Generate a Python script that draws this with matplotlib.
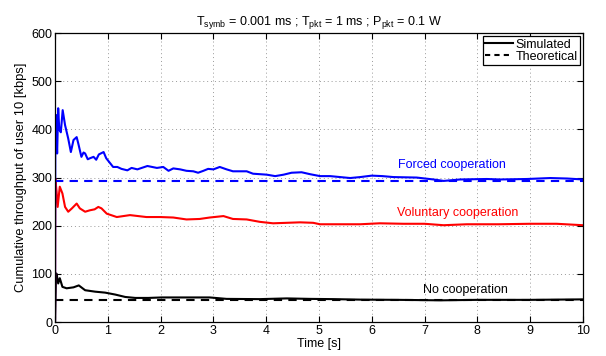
import matplotlib
matplotlib.use("Agg")
import matplotlib.pyplot as plt
from matplotlib.lines import Line2D

plt.rcParams['font.family'] = ['Liberation Sans', 'DejaVu Sans']
plt.rcParams['mathtext.fontset'] = 'custom'
plt.rcParams['mathtext.rm'] = 'Liberation Sans'

# Forced cooperation (simulated)
t_forced = [0, 0.005, 0.02, 0.03, 0.04, 0.06, 0.08, 0.11, 0.145, 0.19, 0.22, 0.25, 0.3,
            0.35, 0.41, 0.44, 0.5, 0.54, 0.57, 0.62, 0.66, 0.73, 0.78, 0.83, 0.92, 0.97,
            1.05, 1.1, 1.18, 1.26, 1.37, 1.45, 1.56, 1.75, 1.93, 2.05, 2.15, 2.24, 2.37,
            2.49, 2.62, 2.71, 2.81, 2.9, 3.0, 3.12, 3.25, 3.37, 3.5, 3.63, 3.75, 3.88,
            4.01, 4.17, 4.33, 4.48, 4.67, 4.83, 5.02, 5.21, 5.4, 5.59, 5.78, 6.0, 6.2,
            6.41, 6.85, 7.17, 7.36, 7.67, 8.18, 8.43, 8.94, 9.38, 9.7, 10.0]
v_forced = [0, 360, 430, 380, 350, 444, 400, 394, 440, 409, 395, 381, 353,
            378, 384, 371, 343, 352, 350, 338, 340, 343, 337, 348, 353, 340,
            329, 322, 322, 318, 315, 320, 317, 324, 320, 322, 314, 319, 317,
            314, 313, 310, 314, 318, 317, 322, 317, 313, 313, 313, 308, 307,
            306, 303, 306, 310, 311, 307, 303, 303, 301, 299, 301, 304, 303,
            301, 300, 296, 293, 296, 297, 296, 297, 299, 298, 296]

# Voluntary cooperation (simulated)
t_volunt = [0, 0.005, 0.03, 0.05, 0.09, 0.14, 0.19, 0.25, 0.32, 0.41, 0.47, 0.57,
            0.66, 0.75, 0.82, 0.88, 0.98, 1.17, 1.42, 1.73, 1.99, 2.24, 2.49, 2.74,
            2.93, 3.19, 3.37, 3.63, 3.88, 4.13, 4.39, 4.64, 4.89, 5.02, 5.4, 5.78,
            6.15, 6.6, 7.0, 7.36, 7.8, 8.4, 9.0, 9.5, 10.0]
v_volunt = [0, 298, 270, 239, 281, 267, 239, 229, 236, 246, 236, 229,
            232, 234, 239, 236, 225, 218, 222, 218, 218, 217, 213, 214,
            217, 220, 214, 213, 208, 205, 206, 207, 206, 203, 203, 203,
            205, 204, 204, 201, 203, 203, 204, 204, 201]

# No cooperation (simulated)
t_nocoop = [0, 0.02, 0.03, 0.06, 0.09, 0.14, 0.22, 0.35, 0.45, 0.57, 0.76, 0.95,
            1.14, 1.33, 1.52, 1.77, 2.02, 2.49, 2.93, 3.25, 3.88, 4.39, 4.83, 5.27,
            5.78, 6.5, 7.3, 8.0, 9.0, 10.0]
v_nocoop = [0, 101, 100, 80, 91, 73, 70, 72, 76, 66, 63, 61,
            57, 52, 50, 50, 51, 51, 51, 48, 47.5, 49, 48, 47.5,
            46.5, 46, 45, 46, 46, 47]

# theoretical values [kbps]
theo_forced = 293
theo_nocoop = 46

fig = plt.figure(figsize=(6.06, 3.56), dpi=100)
ax = fig.add_axes([0.0908, 0.0955, 0.8712, 0.8115])

ax.plot(t_nocoop, v_nocoop, color='black', lw=1.5)
ax.plot([0, 10], [theo_nocoop, theo_nocoop], color='black', lw=1.5, ls=(0, (4, 3)))
ax.plot(t_volunt, v_volunt, color='red', lw=1.5)
ax.plot(t_forced, v_forced, color='blue', lw=1.5)
ax.plot([0, 10], [theo_forced, theo_forced], color='blue', lw=1.5, ls=(0, (4, 3)))

ax.text(7.52, 326, 'Forced cooperation', color='blue', fontsize=9, ha='center', va='center')
ax.text(7.63, 226, 'Voluntary cooperation', color='red', fontsize=9, ha='center', va='center')
ax.text(7.77, 66, 'No cooperation', color='black', fontsize=9, ha='center', va='center')

ax.set_xlim(0, 10)
ax.set_ylim(0, 600)
ax.set_xticks(range(0, 11))
ax.set_yticks(range(0, 601, 100))
ax.tick_params(direction='in', top=True, right=True, labelsize=9, length=4, pad=2)
ax.grid(True, color='#999999', ls=(0, (1, 3)), lw=0.7)
for s in ax.spines.values():
    s.set_linewidth(0.9)

ax.set_xlabel('Time [s]', fontsize=9, labelpad=1)
ax.set_ylabel('Cumulative throughput of user 10 [kbps]', fontsize=9.3, labelpad=3)
ax.set_title(r'T$_{\mathrm{symb}}$ = 0.001 ms ; T$_{\mathrm{pkt}}$ = 1 ms ; P$_{\mathrm{pkt}}$ = 0.1 W',
             fontsize=9, pad=6)

handles = [Line2D([], [], color='black', lw=1.5),
           Line2D([], [], color='black', lw=1.5, ls=(0, (2.5, 2)))]
leg = ax.legend(handles, ['Simulated', 'Theoretical'], loc='upper right', fontsize=9,
                fancybox=False, framealpha=1, edgecolor='black', handlelength=2.2,
                handletextpad=0.2, borderpad=0.2, labelspacing=0.0, borderaxespad=0.25)
leg.get_frame().set_linewidth(0.9)

fig.savefig('out.png', dpi=100)
